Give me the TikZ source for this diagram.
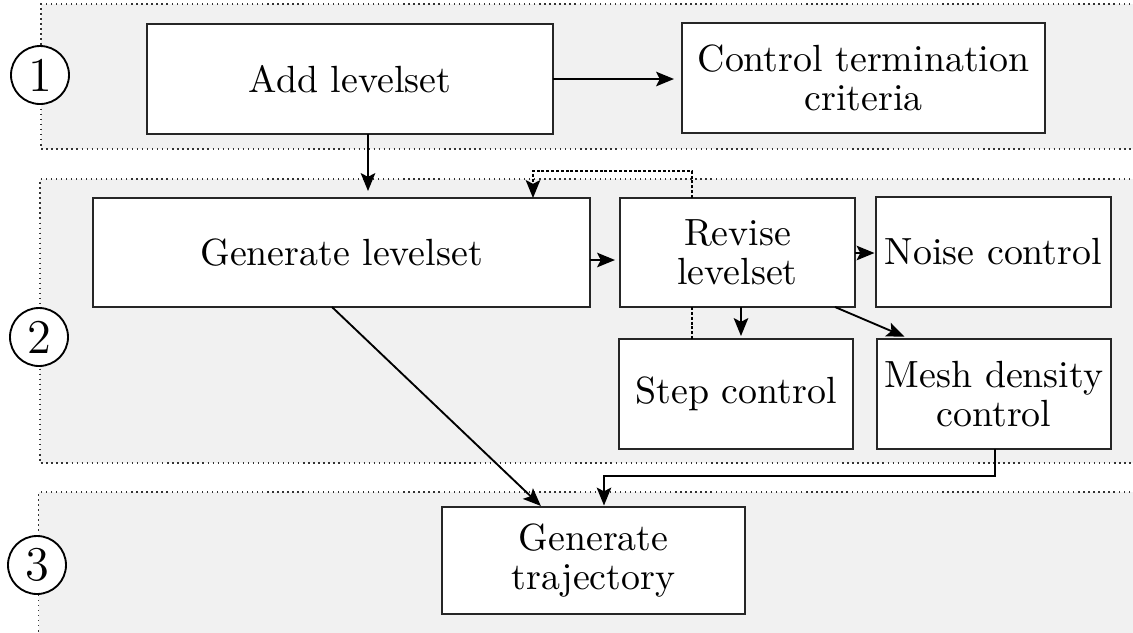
\documentclass[tikz,border=0pt]{standalone}
\usetikzlibrary{arrows.meta,calc}
\definecolor{bandgray}{HTML}{F1F1F1}
\def\pxu{0.268pt}
\tikzset{
  band/.style={fill=bandgray, draw=black!80, densely dotted, line width=0.35pt},
  box/.style={draw=black!85, fill=white, rectangle, align=center, inner sep=0pt, outer sep=0pt, line width=0.5pt, font=\fontsize{10.15}{10.4}\selectfont},
  num/.style={draw, fill=white, circle, inner sep=0pt, minimum size=58*\pxu, line width=0.5pt, font=\fontsize{13}{14}\selectfont},
  arr/.style={-{Stealth[length=4.8pt,width=3.9pt,inset=1pt]}, line width=0.5pt},
  dotarr/.style={-{Stealth[length=4.8pt,width=3.9pt,inset=1pt]}, line width=0.45pt, dash pattern=on 0.8pt off 0.5pt},
  dotline/.style={line width=0.45pt, dash pattern=on 0.8pt off 0.5pt}
}
\begin{document}
\begin{tikzpicture}[x=\pxu, y=-\pxu]
\useasboundingbox (0,0) rectangle (1133,632);
\clip (0,0) rectangle (1133,632);
% bands
\draw[band] (1145,4) -- (41,4) -- (41,149) -- (1145,149);
\draw[band] (1145,179) -- (40,179) -- (40,463) -- (1145,463);
\draw[band] (1145,492) -- (39,492) -- (39,645);
\fill[bandgray] (39.5,492.5) rectangle (1145,645);
% circled numbers
\node[num] (n1) at (40,75) {1};
\node[num] (n2) at (39,337) {2};
\node[num] (n3) at (37,565) {3};
% boxes
\node[box, minimum width=406*\pxu, minimum height=110*\pxu] (add) at (350,79) {Add levelset};
\node[box, minimum width=363*\pxu, minimum height=110*\pxu] (ctrl) at (863.5,78) {Control termination\\criteria};
\node[box, minimum width=497*\pxu, minimum height=109*\pxu] (gen) at (341.5,252.5) {Generate levelset};
\node[box, minimum width=235*\pxu, minimum height=109*\pxu] (rev) at (737.5,252.5) {Revise\\levelset};
\node[box, minimum width=235*\pxu, minimum height=110*\pxu] (noise) at (993.5,252) {Noise control};
\node[box, minimum width=234*\pxu, minimum height=110*\pxu] (step) at (736,394) {Step control};
\node[box, minimum width=234*\pxu, minimum height=110*\pxu] (mesh) at (994,394) {Mesh density\\control};
\node[box, minimum width=303*\pxu, minimum height=107*\pxu] (traj) at (593.5,560.5) {Generate\\trajectory};
% helper coordinates
\coordinate (ax) at (368,0);
\coordinate (fb1) at (692,171);
\coordinate (fb2) at (533,171);
\coordinate (rs) at (741,0);
\coordinate (rm1) at (835,0);
\coordinate (rm2) at (910,0);
\coordinate (d1) at (332,0);
\coordinate (d2) at (542,0);
\coordinate (m1) at (995,476);
\coordinate (m2) at (604,476);
% connectors
\draw[arr, shorten >=8*\pxu] (add.east) -- (add.east -| ctrl.west);
\draw[arr, shorten >=7*\pxu] (add.south -| ax) -- (gen.north -| ax);
\draw[dotarr] (rev.north -| fb1) -- (fb1) -- (fb2) -- (gen.north -| fb2);
\draw[arr, shorten >=5*\pxu] (gen.east |- 0,260) -- (rev.west |- 0,260);
\draw[arr, shorten >=1.5*\pxu] (rev.east |- 0,253) -- (noise.west |- 0,253);
\draw[arr, shorten >=3*\pxu] (rev.south -| rs) -- (step.north -| rs);
\draw[dotline] (rev.south -| fb1) -- (step.north -| fb1);
\draw[arr, shorten >=6*\pxu] (rev.south -| rm1) -- (mesh.north -| rm2);
\draw[arr, shorten >=1.5*\pxu] (gen.south -| d1) -- (traj.north -| d2);
\draw[arr, shorten >=1.5*\pxu] (mesh.south -| m1) -- (m1) -- (m2) -- (traj.north -| m2);
\end{tikzpicture}
\end{document}
